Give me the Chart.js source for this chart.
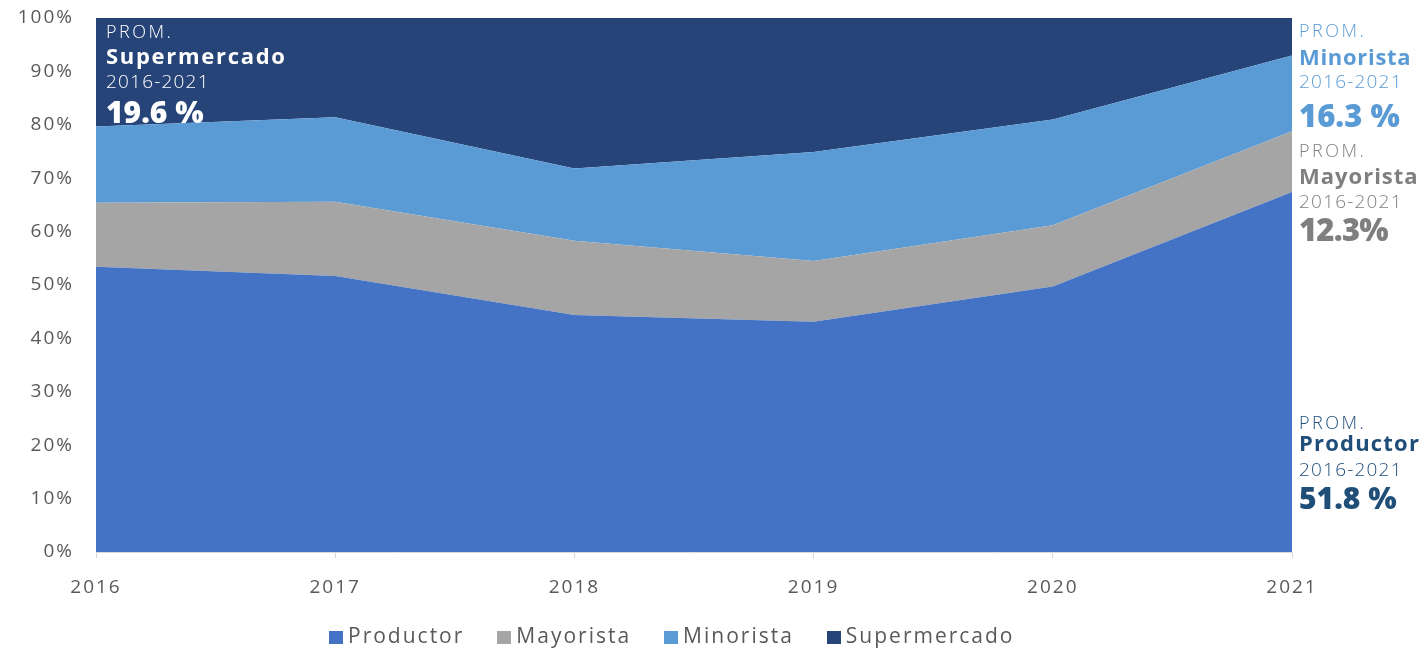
<!DOCTYPE html>
<html><head><meta charset="utf-8">
<script src="https://cdn.jsdelivr.net/npm/chart.js@4.4.0/dist/chart.umd.min.js"></script>
<style>
html,body{margin:0;padding:0;background:#fff;}
#wrap{position:relative;width:1427px;height:650px;overflow:hidden;font-family:"Open Sans",sans-serif;}
canvas{position:absolute;left:0;top:0;}
.t{position:absolute;white-space:nowrap;line-height:1;}
.l{font-weight:300;letter-spacing:1.2px;}
.p{font-weight:300;letter-spacing:2.5px;}
.b{font-weight:700;letter-spacing:1px;}
.xb{font-weight:800;}
#legend{position:absolute;left:329px;top:625px;display:flex;align-items:flex-start;}
.li{display:flex;align-items:flex-start;margin-right:33px;}
.lb{width:14px;height:13px;margin-top:6px;margin-right:5px;}
.lt{font-size:21px;line-height:1;letter-spacing:2px;color:#595959;}
</style></head><body>
<div id="wrap">
<canvas id="c" width="1427" height="650"></canvas>

<div class="t p" style="left:106px;top:21.5px;font-size:18px;color:#fff;">PROM.</div>
<div class="t b" style="left:106px;top:43.5px;font-size:22px;color:#fff;letter-spacing:1.7px;">Supermercado</div>
<div class="t l" style="left:106px;top:72px;font-size:19px;color:#fff;">2016-2021</div>
<div class="t xb" style="left:106px;top:96.5px;font-size:30px;color:#fff;">19.6 %</div>

<div class="t p" style="left:1299px;top:21px;font-size:18px;color:#5B9BD5;">PROM.</div>
<div class="t b" style="left:1299px;top:44.5px;font-size:22px;color:#5B9BD5;letter-spacing:0.7px;">Minorista</div>
<div class="t l" style="left:1299px;top:72px;font-size:19px;color:#5B9BD5;">2016-2021</div>
<div class="t xb" style="left:1299px;top:99.5px;font-size:31px;color:#5B9BD5;">16.3 %</div>

<div class="t p" style="left:1299px;top:141px;font-size:18px;color:#7F7F7F;">PROM.</div>
<div class="t b" style="left:1299px;top:163.5px;font-size:22px;color:#7F7F7F;">Mayorista</div>
<div class="t l" style="left:1299px;top:192px;font-size:19px;color:#7F7F7F;">2016-2021</div>
<div class="t xb" style="left:1299px;top:213.5px;font-size:31px;color:#7F7F7F;letter-spacing:-0.8px;">12.3%</div>

<div class="t p" style="left:1299px;top:413px;font-size:18px;color:#1F4E79;">PROM.</div>
<div class="t b" style="left:1299px;top:430.5px;font-size:22px;color:#1F4E79;letter-spacing:1.2px;">Productor</div>
<div class="t l" style="left:1299px;top:460px;font-size:19px;color:#1F4E79;">2016-2021</div>
<div class="t xb" style="left:1299px;top:482.5px;font-size:30px;color:#1F4E79;">51.8 %</div>

<div id="legend"></div>
</div>
<script>
const years = ['2016', '2017', '2018', '2019', '2020', '2021'];
const seriesNames = ['Productor', 'Mayorista', 'Minorista', 'Supermercado'];
const productor = [53.4, 51.7, 44.4, 43.1, 49.7, 67.4];
const mayorista = [12.0, 13.9, 13.9, 11.4, 11.5, 11.4];
const minorista = [14.3, 15.8, 13.5, 20.4, 19.8, 14.2];
const supermercado = [20.3, 18.6, 28.2, 25.1, 19.0, 7.0];
const colors = ['#4472C4', '#A5A5A5', '#5B9BD5', '#264478'];
const yTickValues = [0, 10, 20, 30, 40, 50, 60, 70, 80, 90, 100];

const values = [productor, mayorista, minorista, supermercado];

Chart.defaults.font.family = '"Open Sans", sans-serif';
Chart.defaults.color = '#595959';

const spacingPlugin = {
  id: 'spacing',
  beforeLayout(c) { c.ctx.letterSpacing = '2px'; },
  beforeDraw(c) { c.ctx.letterSpacing = '2px'; }
};

const chart = new Chart(document.getElementById('c'), {
  type: 'line',
  data: {
    labels: years,
    datasets: seriesNames.map((n, i) => ({
      label: n,
      data: values[i],
      backgroundColor: colors[i],
      borderColor: 'rgba(0,0,0,0)',
      borderWidth: 0,
      pointRadius: 0,
      tension: 0,
      fill: i === 0 ? 'origin' : '-1'
    }))
  },
  options: {
    responsive: false,
    animation: false,
    layout: { padding: { top: 18, right: 135, left: 0, bottom: 0 } },
    plugins: { legend: { display: false }, tooltip: { enabled: false } },
    scales: {
      x: {
        offset: false,
        grid: { display: true, drawOnChartArea: false, drawTicks: true, tickLength: 6, color: '#D9D9D9' },
        border: { display: true, color: '#D9D9D9' },
        ticks: { font: { size: 19 }, color: '#595959', padding: 18, maxRotation: 0, autoSkip: false },
        afterFit(s) { s.height = 98; s.paddingTop = 0; s.paddingBottom = 0; }
      },
      y: {
        stacked: true,
        min: 0, max: 100,
        grid: { display: false, drawTicks: false },
        border: { display: true, color: '#D9D9D9' },
        afterBuildTicks(s) { s.ticks = yTickValues.map(v => ({ value: v })); },
        ticks: { font: { size: 19 }, color: '#595959', padding: 22, callback: v => v + '%' },
        afterFit(s) { s.width = 96; s.paddingTop = 0; s.paddingBottom = 0; }
      }
    }
  },
  plugins: [spacingPlugin]
});

const legend = document.getElementById('legend');
seriesNames.forEach((n, i) => {
  const item = document.createElement('div');
  item.className = 'li';
  const box = document.createElement('div');
  box.className = 'lb';
  box.style.background = colors[i];
  const txt = document.createElement('div');
  txt.className = 'lt';
  txt.textContent = n;
  item.appendChild(box); item.appendChild(txt);
  legend.appendChild(item);
});
</script>
</body></html>
